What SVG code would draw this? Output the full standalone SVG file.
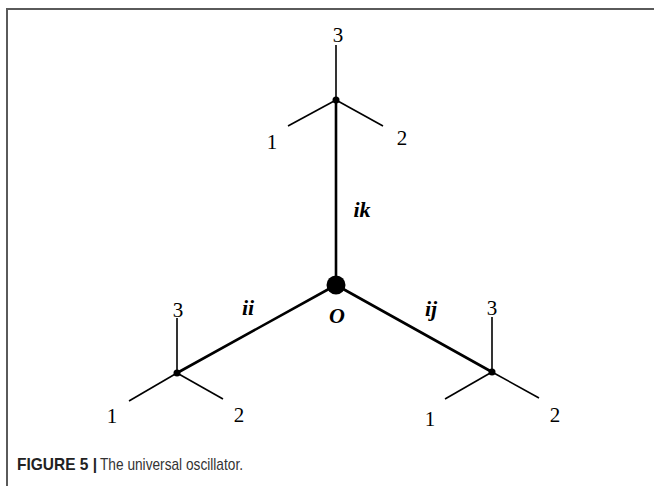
<svg xmlns="http://www.w3.org/2000/svg" width="654" height="486" viewBox="0 0 654 486">
<style>
.frame{stroke:#5a5a5a;stroke-width:2;fill:none}
.main{stroke:#000;stroke-width:2.6;fill:none;stroke-linecap:round}
.br{stroke:#000;stroke-width:1.6;fill:none}
.num{font-family:"Liberation Serif",serif;font-size:21px;fill:#000;text-anchor:middle}
.lab{font-family:"Liberation Serif",serif;font-size:22px;font-style:italic;font-weight:bold;fill:#000;text-anchor:middle}
.cap{font-family:"Liberation Sans",Arial,sans-serif;font-size:17px}
</style>
<rect width="654" height="486" fill="#fff"/>
<path class="frame" d="M7,486 V9 H654"/>
<g id="connectors">
<line class="main" x1="336" y1="100" x2="336" y2="285"/>
<line class="main" x1="336" y1="285" x2="177" y2="373"/>
<line class="main" x1="336" y1="285" x2="492" y2="372"/>
<text class="lab" x="362" y="217">ik</text>
<text class="lab" x="248" y="315">ii</text>
<text class="lab" x="431" y="316">ij</text>
</g>
<g id="O">
<circle cx="336" cy="285" r="9.5" fill="#000"/>
<text class="lab" x="337" y="323" font-size="24">O</text>
</g>
<g id="top">
<line class="br" x1="336" y1="100" x2="336" y2="45"/>
<line class="br" x1="336" y1="100" x2="288" y2="126"/>
<line class="br" x1="336" y1="100" x2="383" y2="126"/>
<circle cx="336" cy="100" r="3.5" fill="#000"/>
<text class="num" x="338" y="42">3</text>
<text class="num" x="272" y="149">1</text>
<text class="num" x="402" y="145">2</text>
</g>
<g id="left">
<line class="br" x1="177" y1="373" x2="177" y2="318"/>
<line class="br" x1="177" y1="373" x2="129" y2="401"/>
<line class="br" x1="177" y1="373" x2="223" y2="399"/>
<circle cx="177" cy="373" r="3.5" fill="#000"/>
<text class="num" x="178" y="317">3</text>
<text class="num" x="112" y="423">1</text>
<text class="num" x="239" y="422">2</text>
</g>
<g id="right">
<line class="br" x1="492" y1="372" x2="492" y2="317"/>
<line class="br" x1="492" y1="372" x2="445" y2="399"/>
<line class="br" x1="492" y1="372" x2="539" y2="398"/>
<circle cx="492" cy="372" r="3.5" fill="#000"/>
<text class="num" x="492" y="315">3</text>
<text class="num" x="430" y="426">1</text>
<text class="num" x="555" y="422">2</text>
</g>
<g id="caption">
<text class="cap" x="17" y="470" font-weight="bold" fill="#222" textLength="80" lengthAdjust="spacingAndGlyphs">FIGURE 5 |</text>
<text class="cap" x="100" y="470" fill="#333" textLength="143" lengthAdjust="spacingAndGlyphs">The universal oscillator.</text>
</g>
</svg>
